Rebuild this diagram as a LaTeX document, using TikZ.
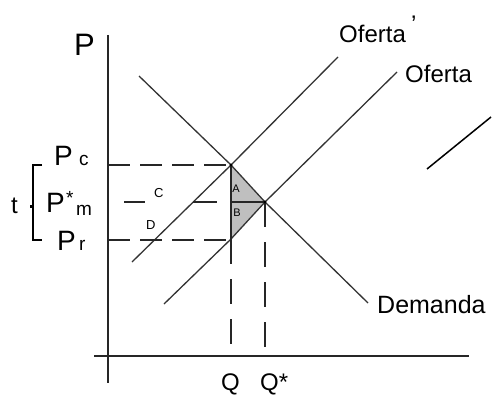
\documentclass[tikz,border=0pt]{standalone}
\usepackage{fontspec}
\setmainfont{Liberation Sans}
\tikzset{
  curve/.style={line width=1.3pt,black!80},
  axisline/.style={line width=1.8pt,black!85},
  hdash/.style={line width=1.8pt,black!85,dash pattern=on 22pt off 10pt},
  vdash/.style={line width=1.8pt,black!85,dash pattern=on 25pt off 15pt},
  solidedge/.style={line width=1.8pt,black!85},
  lbl/.style={inner sep=0pt,anchor=base west},
  bigP/.style={lbl,font=\fontsize{28}{30}\selectfont},
  subtxt/.style={lbl,font=\fontsize{19}{20}\selectfont},
  curvename/.style={lbl,font=\fontsize{24}{26}\selectfont},
  smalltxt/.style={inner sep=0pt,font=\fontsize{13}{14}\selectfont}}
\begin{document}
\begin{tikzpicture}[x=1pt,y=-1pt]
\useasboundingbox (0,0) rectangle (493,396);
% key points
\coordinate (Ep) at (231,165);
\coordinate (E) at (265,202);
\coordinate (R) at (231,239);
\coordinate (M) at (231,202);
% shaded triangle
\fill[black!25] (Ep) -- (E) -- (R) -- cycle;
% axes
\coordinate (yT) at (108,35);
\coordinate (yB) at (108,383);
\coordinate (xL) at (94,356);
\coordinate (xR) at (469,356);
\draw[axisline] (yT) -- (yB);
\draw[axisline] (xL) -- (xR);
% demand and supplies
\coordinate (dT) at (139,76);
\coordinate (dB) at (368,303);
\coordinate (o1B) at (132,262);
\coordinate (o1T) at (338,57);
\coordinate (oB) at (164,304);
\coordinate (oT) at (397,72);
\draw[curve] (dT) -- (Ep) -- (E) -- (dB);
\draw[curve] (o1B) -- (Ep) -- (o1T);
\draw[curve] (oB) -- (R) -- (E) -- (oT);
% dashed guides
\coordinate (aC) at (108,165);
\coordinate (aR) at (108,240);
\coordinate (Rr) at (231,240);
\draw[hdash] (aC) -- (Ep);
\draw[hdash] (aR) -- (Rr);
\coordinate (m1) at (124,202);
\coordinate (m2) at (145,202);
\coordinate (m3) at (193,202);
\coordinate (m4) at (217,202);
\draw[solidedge] (m1) -- (m2);
\draw[solidedge] (m3) -- (m4);
\coordinate (qA) at (231,356);
\coordinate (qB) at (265,356);
\draw[solidedge] (Ep) -- (R);
\draw[solidedge] (M) -- (E);
\draw[vdash] (R) -- (qA);
\draw[vdash] (E) -- (qB);
\fill[black] (Ep) circle (1.6pt);
\fill[black] (E) circle (1.6pt);
% stray line
\coordinate (s1) at (427,169);
\coordinate (s2) at (491,117);
\draw[line width=1.5pt] (s1) -- (s2);
% bracket t
\coordinate (b1) at (42,165);
\coordinate (b2) at (33,165);
\coordinate (b3) at (33,240);
\coordinate (b4) at (42,240);
\draw[line width=1.6pt] (b1) -- (b2) -- (b3) -- (b4);
\fill (30,205) rectangle (33,208);
% labels
\node[lbl,font=\fontsize{31}{32}\selectfont] (P) at (74,56) {P};
\node[bigP] (Pc) at (54,165) {P};
\node[subtxt] (c) at (79,165) {c};
\node[bigP] (Pm) at (46,212) {P};
\node[subtxt] (st) at (66,204) {*};
\node[subtxt] (m) at (76,215) {m};
\node[bigP] (Pr) at (57,250) {P};
\node[subtxt] (r) at (79,250) {r};
\node[lbl,font=\fontsize{24}{26}\selectfont] (t) at (11,213) {t};
\node[curvename] (of1) at (339,43) {Oferta};
\node[curvename] (ap) at (411,33) {'};
\node[curvename] (of) at (405,82) {Oferta};
\node[lbl,font=\fontsize{25}{26}\selectfont] (dem) at (377,313) {Demanda};
\node[lbl,font=\fontsize{24}{25}\selectfont] (Q) at (221,390) {Q};
\node[lbl,font=\fontsize{24}{25}\selectfont] (Qs) at (260,390) {Q*};
\node[smalltxt,anchor=base west] (C) at (154,197) {C};
\node[smalltxt,anchor=base west] (D) at (146,229) {D};
\node[inner sep=0pt,font=\fontsize{11}{12}\selectfont] (A) at (236,189) {A};
\node[inner sep=0pt,font=\fontsize{11}{12}\selectfont] (B) at (237,213) {B};
\end{tikzpicture}
\end{document}
